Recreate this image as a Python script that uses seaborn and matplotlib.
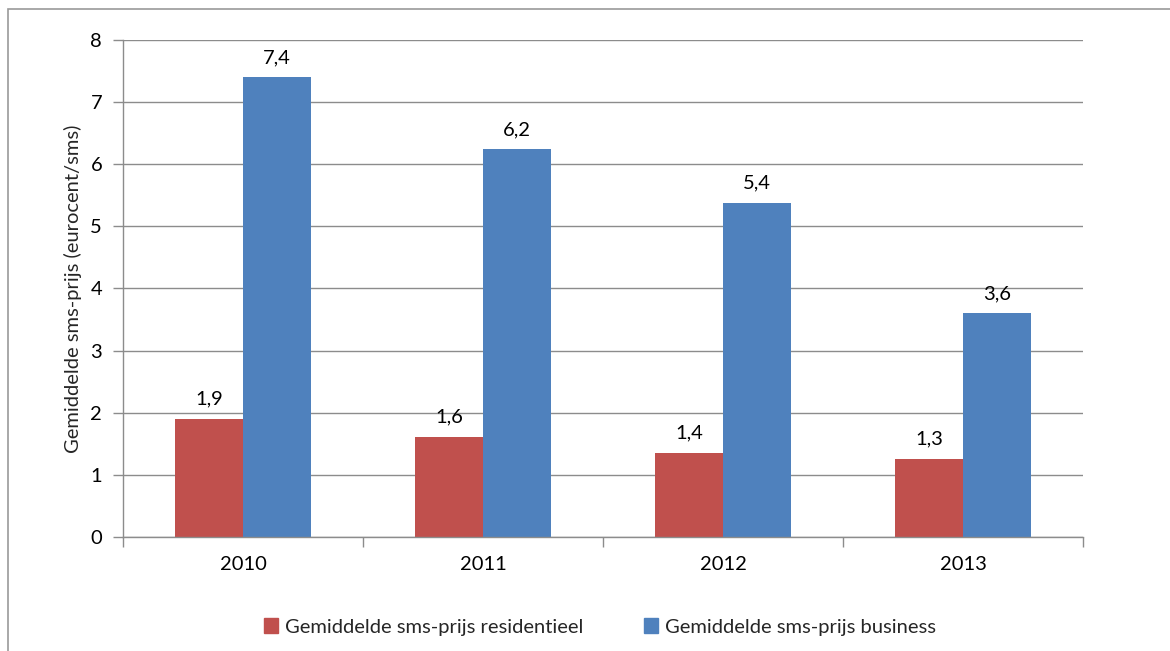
import pandas as pd
import matplotlib.pyplot as plt
import seaborn as sns
from matplotlib.patches import Rectangle

years = ['2010', '2011', '2012', '2013']
residentieel = [1.90, 1.61, 1.36, 1.26]
business = [7.40, 6.24, 5.38, 3.60]
series_names = ['Gemiddelde sms-prijs residentieel', 'Gemiddelde sms-prijs business']

df = pd.DataFrame({
    'jaar': years * 2,
    'prijs': residentieel + business,
    'reeks': [series_names[0]] * 4 + [series_names[1]] * 4,
})

sns.set_theme(style='white')
plt.rcParams['font.family'] = ['Lato', 'DejaVu Sans']
fs = 14.5

fig = plt.figure(figsize=(11.7, 6.51), dpi=100)
ax = fig.add_axes([0.1051, 0.1751, 0.8205, 0.7635])

# outer frame (only top and left edge visible in the original crop)
fig.patches.append(Rectangle((8 / 1170, -0.1), 1.2, 1 - 9.5 / 651 + 0.1, transform=fig.transFigure,
                             fill=False, edgecolor='#9a9a9a', linewidth=1.2, zorder=0))

sns.barplot(data=df, x='jaar', y='prijs', hue='reeks', ax=ax,
            palette=['#C0504D', '#4F81BD'], width=0.567, saturation=1, legend=False,
            linewidth=0)

for cont in ax.containers:
    labels = [f'{b.get_height():.1f}'.replace('.', ',') for b in cont]
    ax.bar_label(cont, labels=labels, padding=8, fontsize=fs, color='black')

ax.set_ylim(0, 8)
ax.set_xlim(-0.5, 3.5)
ax.set_yticks(range(0, 9))
ax.yaxis.grid(True, color='#8c8c8c', linewidth=1)
ax.set_axisbelow(True)
for s in ['top', 'right']:
    ax.spines[s].set_visible(False)
for s in ['left', 'bottom']:
    ax.spines[s].set_color('#8c8c8c')
    ax.spines[s].set_linewidth(1)

ax.set_xticks([-0.5, 0.5, 1.5, 2.5, 3.5], minor=True)
ax.tick_params(axis='x', which='major', length=0, pad=14, labelsize=fs, colors='black')
ax.tick_params(axis='x', which='minor', length=7, color='#8c8c8c', width=1, bottom=True)
ax.tick_params(axis='y', length=7, color='#8c8c8c', width=1, left=True, pad=8, labelsize=fs, labelcolor='black')

ax.set_xlabel('')
ax.set_ylabel('Gemiddelde sms-prijs (eurocent/sms)', fontsize=fs, labelpad=6)

handles = [Rectangle((0, 0), 1, 1, color=c) for c in ['#C0504D', '#4F81BD']]
fig.legend(handles, series_names, loc='center', bbox_to_anchor=(0.513, 1 - 627 / 651), ncol=2,
           frameon=False, fontsize=fs, handlelength=0.7, handleheight=0.7, handletextpad=0.35,
           columnspacing=3.0)

fig.savefig('out.png', dpi=100)
